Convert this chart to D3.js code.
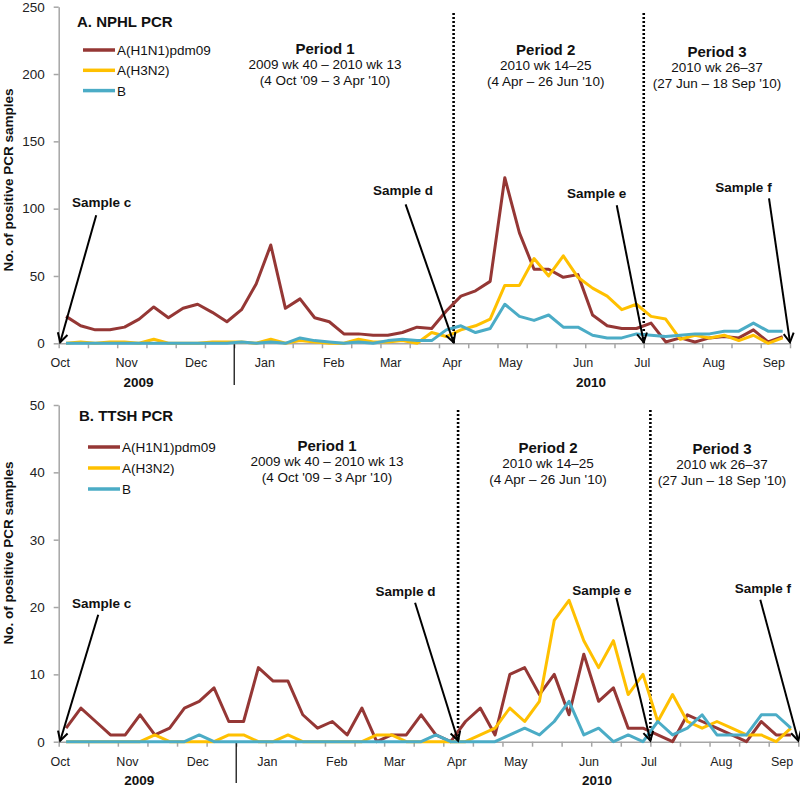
<!DOCTYPE html>
<html>
<head>
<meta charset="utf-8">
<script src="https://cdn.jsdelivr.net/npm/d3@7"></script>
<style>
  body { margin: 0; background: #fff; }
  svg text { font-family: "Liberation Sans", Arial, sans-serif; }
</style>
</head>
<body>
<svg id="chart" width="800" height="787"></svg>
<script>
// ---------------- DATA ----------------
// 50 weekly points: 2009 wk 40 ... 2010 wk 36/37
const seriesNames = ["A(H1N1)pdm09", "A(H3N2)", "B"];
const seriesColors = ["#953735", "#FFC000", "#4BACC6"];

const nphlH1N1 = [20,13,10,10,12,18,27,19,26,29,23,16,25,44,73,26,33,19,16,7,7,6,6,8,12,
                  11,24,35,39,46,123,82,55,55,49,51,21,13,11,11,15,1,4,1,4,5,4,10,1,5];
const nphlH3N2 = [0,1,0,1,1,0,3,0,0,0,1,1,1,0,3,0,2,1,0,0,3,1,1,2,0,
                  8,5,10,13,18,43,43,63,50,65,49,41,35,25,29,20,18,3,6,4,6,2,6,0,4];
const nphlB    = [0,0,0,0,0,0,0,0,0,0,0,0,1,0,1,0,4,2,1,0,1,0,2,3,2,
                  2,10,13,8,11,29,20,17,21,12,12,6,4,4,7,6,5,6,7,7,9,9,15,9,9];

const ttshH1N1 = [2,5,3,1,1,4,1,2,5,6,8,3,3,11,9,9,4,2,3,1,5,0,1,1,4,
                  1,0,3,5,1,10,11,7,10,4,13,6,8,2,2,1,0,4,3,2,1,0,3,1,1];
const ttshH3N2 = [0,0,0,0,0,0,1,0,0,0,0,1,1,0,0,1,0,0,0,0,0,1,1,0,0,
                  0,0,0,1,2,5,3,6,18,21,15,11,15,7,10,3,7,3,2,3,2,1,1,0,2];
const ttshB    = [0,0,0,0,0,0,0,0,0,1,0,0,0,0,0,0,0,0,0,0,0,0,0,0,0,
                  1,0,0,0,0,1,2,1,3,6,1,2,0,1,0,3,1,2,4,1,1,1,4,4,2];

const monthLabels = ["Oct","Nov","Dec","Jan","Feb","Mar","Apr","May","Jun","Jul","Aug","Sep"];
const monthWeekPos = [0.1,4.65,9.4,14.1,18.8,22.7,26.9,30.9,35.85,39.9,44.8,48.9];
const yearLabels = ["2009","2010"];
const yearWeekPos = [5.45,36.4];
const yearBreakWeek = 12;

const periodNames = ["Period 1","Period 2","Period 3"];
const periodWeeks = ["2009 wk 40 \u2013 2010 wk 13","2010 wk 14\u201325","2010 wk 26\u201337"];
const periodDates = ["(4 Oct '09 \u2013 3 Apr '10)","(4 Apr \u2013 26 Jun '10)","(27 Jun \u2013 18 Sep '10)"];
const periodBoundaryWeeks = [27, 40];

const sampleLabels = ["Sample c","Sample d","Sample e","Sample f"];
const sampleWeeks = [0, 27, 40, 50];

const nWeeks = 50;

// ---------------- LAYOUT ----------------
const panels = [
  { title: "A. NPHL PCR", series: [nphlH1N1, nphlH3N2, nphlB],
    x0: 58.7, x1: 790, yTop: 6.7, yBot: 343.3, yMax: 250, yStep: 50,
    titlePos: [77, 27], legend: { x: 83, y: 50, gap: 20.3 },
    periodX: [325, 545.7, 717], periodY: [48, 49, 51],
    dottedTop: 13,
    monthY: 367, yearY: 387, breakBottom: 385, axisTitleY: 180,
    arrows: [ {dx:36,dy:-127,tx:5.5,ty:-13}, {dx:-48,dy:-138,tx:-2.5,ty:-14},
              {dx:-27,dy:-137,tx:-20,ty:-12}, {dx:-21,dy:-144,tx:-25.5,ty:-11} ] },
  { title: "B. TTSH PCR", series: [ttshH1N1, ttshH3N2, ttshB],
    x0: 58.7, x1: 798.3, yTop: 405, yBot: 741.7, yMax: 50, yStep: 10,
    titlePos: [79, 421], legend: { x: 88, y: 447, gap: 21 },
    periodX: [327, 548, 722], periodY: [445, 447, 448],
    dottedTop: 410,
    monthY: 766, yearY: 785, breakBottom: 783, axisTitleY: 553,
    arrows: [ {dx:38,dy:-126,tx:3.5,ty:-12}, {dx:-43,dy:-138,tx:-9.5,ty:-12},
              {dx:-34,dy:-143,tx:-14.5,ty:-8}, {dx:-38,dy:-141,tx:2.5,ty:-12} ] }
];

const svg = d3.select("#chart");

const defs = svg.append("defs");
defs.append("marker")
  .attr("id", "arrowhead")
  .attr("viewBox", "-12 -7 14 14")
  .attr("refX", 0).attr("refY", 0)
  .attr("markerWidth", 14).attr("markerHeight", 14)
  .attr("markerUnits", "userSpaceOnUse")
  .attr("orient", "auto")
  .append("path")
  .attr("d", "M-9,-5 L0,0 L-9,5")
  .attr("fill", "none").attr("stroke", "#000").attr("stroke-width", 2);

panels.forEach(p => {
  const g = svg.append("g");
  const x = d3.scaleLinear().domain([0, nWeeks]).range([p.x0, p.x1]);
  const y = d3.scaleLinear().domain([0, p.yMax]).range([p.yBot, p.yTop]);

  // Y axis
  const yAxis = d3.axisLeft(y)
    .tickValues(d3.range(0, p.yMax + 1, p.yStep))
    .tickSize(5).tickSizeOuter(0).tickPadding(9);
  const ya = g.append("g").attr("transform", `translate(${p.x0},0)`).call(yAxis);
  ya.select(".domain").attr("stroke", "#a6a6a6").attr("stroke-width", 1.5);
  ya.selectAll(".tick line").attr("stroke", "#a6a6a6").attr("stroke-width", 1.5);
  ya.selectAll(".tick text").attr("font-size", 13.5).attr("fill", "#222")
    .attr("font-family", "Liberation Sans, Arial, sans-serif");

  // X axis
  const xAxis = d3.axisBottom(x)
    .tickValues(d3.range(0, nWeeks + 1, 2))
    .tickSize(5).tickSizeOuter(0).tickFormat("");
  const xa = g.append("g").attr("transform", `translate(0,${p.yBot})`).call(xAxis);
  xa.select(".domain").attr("stroke", "#a6a6a6").attr("stroke-width", 1.5);
  xa.selectAll(".tick line").attr("stroke", "#a6a6a6").attr("stroke-width", 1.5);

  // Month labels
  g.selectAll(".month").data(monthLabels).enter().append("text")
    .attr("x", (d, i) => x(monthWeekPos[i]))
    .attr("y", p.monthY)
    .attr("text-anchor", "middle")
    .attr("font-size", 12.5).attr("fill", "#222")
    .text(d => d);

  // Year labels
  g.selectAll(".year").data(yearLabels).enter().append("text")
    .attr("x", (d, i) => x(yearWeekPos[i]))
    .attr("y", p.yearY)
    .attr("text-anchor", "middle")
    .attr("font-size", 13.5).attr("font-weight", "bold").attr("fill", "#111")
    .text(d => d);

  // Year break line
  g.append("line")
    .attr("x1", x(yearBreakWeek)).attr("x2", x(yearBreakWeek))
    .attr("y1", p.yBot + 1).attr("y2", p.breakBottom)
    .attr("stroke", "#000").attr("stroke-width", 1.2);

  // Y axis title
  g.append("text")
    .attr("transform", `translate(13,${p.axisTitleY}) rotate(-90)`)
    .attr("text-anchor", "middle")
    .attr("font-size", 13.5).attr("font-weight", "bold").attr("fill", "#111")
    .text("No. of positive PCR samples");

  // Period dotted lines
  periodBoundaryWeeks.forEach(w => {
    g.append("line")
      .attr("x1", x(w)).attr("x2", x(w))
      .attr("y1", p.dottedTop).attr("y2", p.yBot)
      .attr("stroke", "#000").attr("stroke-width", 2.6)
      .attr("stroke-dasharray", "2,2");
  });

  // Series lines
  const line = d3.line().x((d, i) => x(i + 0.5)).y(d => y(d));
  p.series.forEach((s, k) => {
    g.append("path").datum(s)
      .attr("d", line)
      .attr("fill", "none")
      .attr("stroke", seriesColors[k])
      .attr("stroke-width", 3)
      .attr("stroke-linejoin", "round");
  });

  // Panel title
  g.append("text")
    .attr("x", p.titlePos[0]).attr("y", p.titlePos[1])
    .attr("font-size", 15).attr("font-weight", "bold").attr("fill", "#111")
    .text(p.title);

  // Legend
  seriesNames.forEach((n, k) => {
    const ly = p.legend.y + k * p.legend.gap;
    g.append("line")
      .attr("x1", p.legend.x).attr("x2", p.legend.x + 32)
      .attr("y1", ly).attr("y2", ly)
      .attr("stroke", seriesColors[k]).attr("stroke-width", 3.5);
    g.append("text")
      .attr("x", p.legend.x + 34).attr("y", ly + 5)
      .attr("font-size", 13.5).attr("fill", "#111")
      .text(n);
  });

  // Period labels
  periodNames.forEach((n, k) => {
    const cx = p.periodX[k], cy = p.periodY[k];
    g.append("text").attr("x", cx).attr("y", cy + 5.5)
      .attr("text-anchor", "middle").attr("font-size", 15).attr("font-weight", "bold")
      .attr("fill", "#111").text(n);
    g.append("text").attr("x", cx).attr("y", cy + 21)
      .attr("text-anchor", "middle").attr("font-size", 13.5).attr("fill", "#111")
      .text(periodWeeks[k]);
    g.append("text").attr("x", cx).attr("y", cy + 37)
      .attr("text-anchor", "middle").attr("font-size", 13.5).attr("fill", "#111")
      .text(periodDates[k]);
  });

  // Sample arrows
  sampleLabels.forEach((lab, k) => {
    const a = p.arrows[k];
    const tipX = x(sampleWeeks[k]) + (k === 0 ? 1.5 : 0);
    const tipY = y(0) - 1;
    const tailX = tipX + a.dx, tailY = tipY + a.dy;
    g.append("line")
      .attr("x1", tailX).attr("y1", tailY)
      .attr("x2", tipX).attr("y2", tipY)
      .attr("stroke", "#000").attr("stroke-width", 2)
      .attr("marker-end", "url(#arrowhead)");
    g.append("text")
      .attr("x", tailX + a.tx).attr("y", tailY + a.ty + 5)
      .attr("text-anchor", "middle")
      .attr("font-size", 13.5).attr("font-weight", "bold").attr("fill", "#111")
      .text(lab);
  });
});
</script>
</body>
</html>
